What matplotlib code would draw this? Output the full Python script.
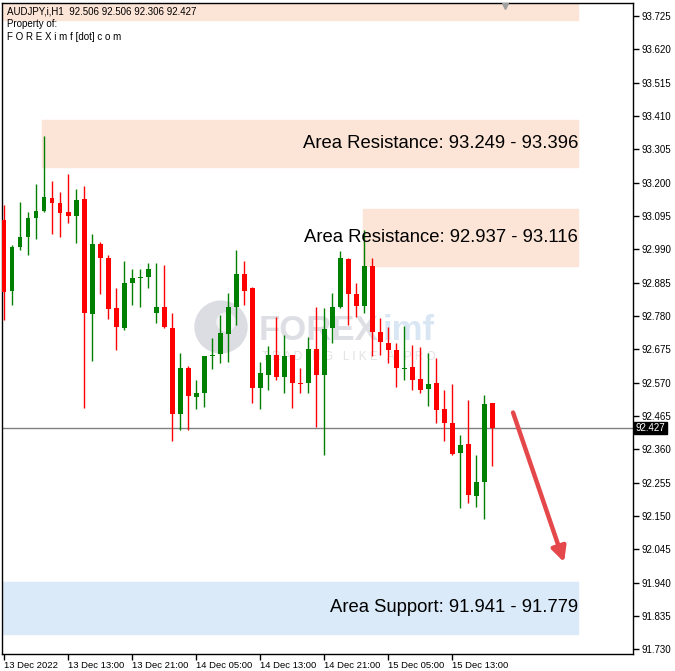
import numpy as np
import matplotlib
matplotlib.use("Agg")
import matplotlib.pyplot as plt
from matplotlib.patches import Rectangle, Circle
from matplotlib.transforms import blended_transform_factory

# AUDJPY H1 candles, 13 Dec 2022 05:00 -> 15 Dec 2022 18:00
opens = [93.082, 92.859, 92.997, 93.029, 93.089, 93.111, 93.152, 93.136, 93.108, 93.095,
         93.149, 92.786, 93.007, 92.963, 92.805, 92.742, 92.884, 92.900, 92.903, 92.789,
         92.808, 92.742, 92.471, 92.616, 92.525, 92.537, 92.654, 92.660, 92.723, 92.808,
         92.912, 92.868, 92.553, 92.594, 92.657, 92.588, 92.657, 92.569, 92.569, 92.676,
         92.594, 92.742, 92.808, 92.960, 92.849, 92.811, 92.937, 92.730, 92.695, 92.673,
         92.613, 92.619, 92.581, 92.550, 92.569, 92.487, 92.443, 92.349, 92.377, 92.213,
         92.257, 92.506]
highs = [93.130, 93.004, 93.139, 93.108, 93.196, 93.347, 93.205, 93.171, 93.227, 93.180,
         93.189, 93.038, 93.013, 92.972, 92.868, 92.953, 92.928, 92.928, 92.947, 92.947,
         92.941, 92.789, 92.663, 92.622, 92.578, 92.654, 92.711, 92.783, 92.852, 92.988,
         92.953, 92.871, 92.635, 92.685, 92.777, 92.720, 92.657, 92.616, 92.714, 92.808,
         92.805, 92.852, 92.985, 92.963, 92.884, 93.051, 92.963, 92.774, 92.745, 92.695,
         92.748, 92.689, 92.682, 92.663, 92.648, 92.547, 92.566, 92.405, 92.515, 92.342,
         92.531, 92.506]
lows = [92.767, 92.815, 92.988, 92.972, 93.023, 93.108, 93.038, 93.029, 93.073, 93.010,
        92.490, 92.638, 92.849, 92.770, 92.673, 92.736, 92.815, 92.808, 92.868, 92.758,
        92.742, 92.386, 92.421, 92.421, 92.487, 92.493, 92.613, 92.632, 92.635, 92.752,
        92.815, 92.506, 92.487, 92.547, 92.578, 92.537, 92.490, 92.537, 92.537, 92.430,
        92.342, 92.695, 92.805, 92.752, 92.777, 92.790, 92.654, 92.657, 92.632, 92.556,
        92.578, 92.547, 92.537, 92.496, 92.443, 92.386, 92.342, 92.175, 92.191, 92.178,
        92.140, 92.306]
closes = [92.856, 92.997, 93.029, 93.089, 93.111, 93.155, 93.136, 93.105, 93.095, 93.145,
          92.789, 93.007, 92.963, 92.802, 92.745, 92.884, 92.900, 92.903, 92.928, 92.808,
          92.745, 92.471, 92.616, 92.528, 92.537, 92.654, 92.657, 92.726, 92.808, 92.912,
          92.859, 92.553, 92.600, 92.657, 92.588, 92.654, 92.569, 92.566, 92.676, 92.594,
          92.739, 92.808, 92.963, 92.849, 92.811, 92.937, 92.730, 92.698, 92.673, 92.616,
          92.616, 92.578, 92.547, 92.566, 92.484, 92.443, 92.345, 92.374, 92.216, 92.257,
          92.503, 92.427]

tick_labels = ["13 Dec 2022", "13 Dec 13:00", "13 Dec 21:00", "14 Dec 05:00",
               "14 Dec 13:00", "14 Dec 21:00", "15 Dec 05:00", "15 Dec 13:00"]
price_ticks = [93.725, 93.620, 93.515, 93.410, 93.305, 93.200, 93.095, 92.990, 92.885,
               92.780, 92.675, 92.570, 92.465, 92.360, 92.255, 92.150, 92.045, 91.940,
               91.835, 91.730]

resist1 = (93.249, 93.396)
resist2 = (92.937, 93.116)
support = (91.779, 91.941)
last_price = 92.427

W, H = 675, 671
fig = plt.figure(figsize=(W / 100, H / 100), dpi=100)
fig.patch.set_facecolor("white")
ax = fig.add_axes([2 / W, 1 - 654 / H, 631 / W, 651 / H])
ax.set_xlim(-0.25, 78.6)
ax.set_ylim(91.715, 93.766)

n = len(closes)
x = np.arange(n)

# zones
ax.add_patch(Rectangle((-1, 93.712), 72.75, 0.2, color="#fce4d6", zorder=0))
ax.add_patch(Rectangle((4.75, resist1[0]), 67, resist1[1] - resist1[0], color="#fce4d6", zorder=0))
ax.add_patch(Rectangle((44.9, resist2[0]), 26.85, resist2[1] - resist2[0], color="#fce4d6", zorder=0))
ax.add_patch(Rectangle((-1, support[0]), 72.75, support[1] - support[0], color="#daeaf8", zorder=0))

# watermark (behind the candles, placed in figure pixels)
ff = fig.transFigure
ax.add_patch(Circle((221 / W, 1 - 327 / H), 26 / W, transform=ff, color="#dcdce3", zorder=1))
ax.add_patch(Circle((226 / W, 1 - 322 / H), 9 / W, transform=ff, color="#f4f4f6", zorder=1))
ax.text(259 / W, 1 - 331 / H, "FOREX", fontsize=25, fontweight="bold", color="#dedee5",
        ha="left", va="center", family="Liberation Sans", transform=ff, zorder=1)
ax.text(383 / W, 1 - 331 / H, "imf", fontsize=25, fontweight="bold", color="#d9e7f4",
        ha="left", va="center", family="Liberation Sans", transform=ff, zorder=1)
ax.text(262 / W, 1 - 357 / H, "T R A D I N G   L I K E   A   P R O", fontsize=8.5,
        color="#e2e2e2", ha="left", va="center", family="Liberation Sans", transform=ff,
        zorder=1)

# current price line
ax.axhline(last_price, color="#808080", lw=1, zorder=2)

# candles
for i in range(n):
    o, h, l, c = opens[i], highs[i], lows[i], closes[i]
    col = "#008000" if c >= o else "#ff0000"
    ax.vlines(x[i], l, h, color=col, lw=1, zorder=3)
    ax.bar(x[i], max(abs(c - o), 0.003), bottom=min(o, c), width=0.62, color=col,
           edgecolor=col, lw=0, zorder=4)

# arrow
ax.annotate("", xy=(70.1, 91.996), xytext=(63.5, 92.484),
            arrowprops=dict(arrowstyle="-|>", color="#e5484b", lw=3.2, mutation_scale=22),
            zorder=5)

# labels on zones
fs = 13.3
ax.text(71.75, sum(resist1) / 2, f"Area Resistance: {resist1[0]:.3f} - {resist1[1]:.3f}",
        ha="right", va="center", fontsize=fs, family="Liberation Sans", zorder=6)
ax.text(71.75, sum(resist2) / 2, f"Area Resistance: {resist2[0]:.3f} - {resist2[1]:.3f}",
        ha="right", va="center", fontsize=fs, family="Liberation Sans", zorder=6)
ax.text(71.75, sum(support) / 2, f"Area Support: {support[1]:.3f} - {support[0]:.3f}",
        ha="right", va="center", fontsize=fs, family="Liberation Sans", zorder=6)

# small marker at top
ax.plot([62.6], [93.758], marker="v", color="#a0a0a0", ms=5, zorder=6)

# header text
fig.text(7 / W, 1 - 11 / H, "AUDJPY,i,H1  92.506 92.506 92.306 92.427", fontsize=7,
         family="Liberation Sans", va="center", ha="left")
fig.text(7 / W, 1 - 24 / H, "Property of:", fontsize=7, family="Liberation Sans",
         va="center", ha="left")
fig.text(7 / W, 1 - 37 / H, "F O R E X i m f [dot] c o m", fontsize=7,
         family="Liberation Sans", va="center", ha="left")

# axes styling
for s in ax.spines.values():
    s.set_color("black")
    s.set_linewidth(1)
ax.yaxis.tick_right()
ax.set_yticks(price_ticks)
ax.set_yticklabels([f"{p:.3f}" for p in price_ticks], fontsize=7, family="Liberation Sans")
ax.tick_params(axis="y", length=4, width=1, pad=2, colors="black")
ax.set_xticks(x[::8][:len(tick_labels)])
ax.set_xticklabels(tick_labels, fontsize=6.8, family="Liberation Sans", ha="left")
ax.tick_params(axis="x", length=4, width=1, pad=1)

# last price tag
tr = blended_transform_factory(ax.transAxes, ax.transData)
ax.text(1.004, last_price, f"{last_price:.3f}", transform=tr, ha="left", va="center",
        fontsize=7, color="white", family="Liberation Sans",
        bbox=dict(boxstyle="square,pad=0.15", fc="black", ec="black"), clip_on=False)

fig.savefig("out.png", dpi=100)
